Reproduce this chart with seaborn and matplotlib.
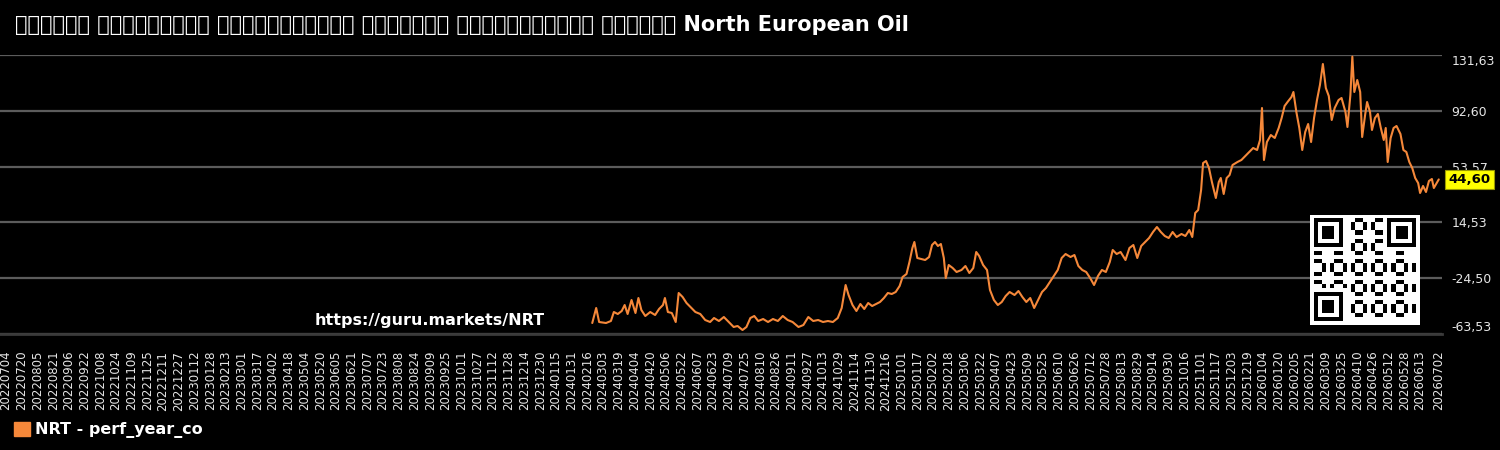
import numpy as np
import pandas as pd
import matplotlib
matplotlib.use("Agg")
import matplotlib.pyplot as plt
import matplotlib.transforms as mtransforms
from matplotlib.patches import Patch
import seaborn as sns

# ---------------- data ----------------
title = "ಕಂಪನಿಯ ಮಾರುಕಟ್ಟೆ ಬಂಡವಾಳೀಕರಣದ ವಾರ್ಷಿಕ ಚಲನಶಾಸ್ತ್ರದ ಚಾರ್ಟ್ North European Oil"
series_name = "NRT - perf_year_co"
watermark = "https://guru.markets/NRT"
axis_start = "20220704"
axis_end = "20260702"
tick_step_days = 16
y_ticks = [-63.53, -24.50, 14.53, 53.57, 92.60, 131.63]
last_value = 44.60

dates = [
    "20240221", "20240225", "20240228", "20240306", "20240311", "20240314", "20240318", "20240322",
    "20240325", "20240328", "20240401", "20240405", "20240408", "20240411", "20240415", "20240420",
    "20240425", "20240429", "20240503", "20240505", "20240508", "20240512", "20240516", "20240519",
    "20240523", "20240527", "20240601", "20240605", "20240610", "20240615", "20240620", "20240624",
    "20240629", "20240704", "20240709", "20240714", "20240718", "20240723", "20240727", "20240731",
    "20240804", "20240808", "20240813", "20240818", "20240823", "20240828", "20240902", "20240907",
    "20240912", "20240918", "20240923", "20240928", "20241003", "20241008", "20241013", "20241018",
    "20241023", "20241028", "20241101", "20241105", "20241108", "20241112", "20241116", "20241120",
    "20241124", "20241128", "20241202", "20241206", "20241210", "20241214", "20241218", "20241222",
    "20241226", "20241230", "20250102", "20250106", "20250109", "20250112", "20250114", "20250117",
    "20250121", "20250125", "20250129", "20250201", "20250204", "20250207", "20250210", "20250213",
    "20250215", "20250218", "20250222", "20250226", "20250303", "20250307", "20250311", "20250315",
    "20250318", "20250321", "20250325", "20250329", "20250401", "20250405", "20250409", "20250413",
    "20250417", "20250421", "20250426", "20250430", "20250504", "20250508", "20250512", "20250516",
    "20250520", "20250524", "20250528", "20250601", "20250605", "20250609", "20250613", "20250617",
    "20250622", "20250626", "20250630", "20250704", "20250708", "20250712", "20250716", "20250720",
    "20250724", "20250728", "20250801", "20250804", "20250808", "20250812", "20250817", "20250821",
    "20250825", "20250829", "20250902", "20250906", "20250910", "20250914", "20250918", "20250922",
    "20250926", "20250930", "20251004", "20251008", "20251013", "20251017", "20251021", "20251024",
    "20251027", "20251030", "20251102", "20251104", "20251107", "20251110", "20251113", "20251115",
    "20251117", "20251120", "20251122", "20251125", "20251128", "20251201", "20251204", "20251209",
    "20251213", "20251217", "20251221", "20251225", "20251229", "20260101", "20260103", "20260105",
    "20260108", "20260112", "20260116", "20260120", "20260123", "20260126", "20260129", "20260202",
    "20260204", "20260207", "20260210", "20260213", "20260216", "20260219", "20260222", "20260225",
    "20260228", "20260303", "20260306", "20260309", "20260312", "20260315", "20260318", "20260322",
    "20260325", "20260329", "20260331", "20260403", "20260405", "20260407", "20260410", "20260413",
    "20260415", "20260418", "20260420", "20260423", "20260425", "20260428", "20260501", "20260504",
    "20260507", "20260509", "20260511", "20260514", "20260517", "20260520", "20260524", "20260527",
    "20260530", "20260602", "20260605", "20260608", "20260611", "20260613", "20260616", "20260619",
    "20260622", "20260625", "20260627", "20260702",
]

values = [
    -55.84, -45.34, -55.14, -55.84, -54.44, -48.14, -49.54, -47.44,
    -43.25, -49.54, -39.75, -48.84, -38.35, -46.74, -50.94, -48.14,
    -50.24, -46.04, -43.25, -38.35, -48.14, -48.84, -55.14, -34.85,
    -37.65, -41.85, -45.34, -48.14, -49.54, -53.74, -55.14, -52.34,
    -54.44, -51.64, -55.14, -58.63, -57.93, -60.73, -58.63, -52.34,
    -50.94, -54.44, -53.04, -55.14, -53.04, -54.44, -50.94, -53.74,
    -55.14, -58.63, -57.24, -51.64, -54.44, -53.74, -55.14, -54.44,
    -55.14, -52.34, -45.34, -29.26, -36.25, -43.25, -47.44, -42.55,
    -46.04, -41.85, -43.95, -42.55, -41.15, -38.35, -34.85, -35.55,
    -34.15, -29.95, -23.66, -21.56, -13.17, -3.37, 0.82, -10.37,
    -11.07, -11.77, -9.67, -1.28, 0.82, -1.97, -0.58, -10.37,
    -24.36, -15.27, -17.36, -20.16, -18.76, -15.96, -20.86, -17.36,
    -6.17, -8.97, -15.27, -18.76, -32.75, -39.75, -43.25, -41.15,
    -36.95, -34.15, -36.25, -33.45, -37.65, -41.15, -38.35, -45.34,
    -39.75, -34.15, -31.35, -27.16, -22.96, -18.76, -10.37, -7.57,
    -9.67, -8.27, -15.96, -18.76, -20.16, -24.36, -29.26, -22.96,
    -18.76, -20.16, -13.17, -4.77, -7.57, -6.17, -11.77, -3.37,
    -1.28, -10.37, -1.97, 0.82, 3.62, 7.82, 11.32, 7.82,
    5.02, 3.62, 7.82, 4.32, 6.42, 5.02, 9.22, 4.32,
    21.11, 23.21, 37.20, 56.08, 57.48, 52.59, 42.79, 37.20,
    31.60, 42.79, 45.59, 34.40, 45.59, 47.69, 54.68, 56.78,
    58.18, 60.98, 63.78, 66.58, 65.18, 72.17, 94.56, 58.18,
    70.77, 75.67, 73.57, 80.57, 87.56, 95.96, 98.75, 102.25,
    105.75, 91.76, 80.57, 65.18, 77.77, 83.36, 70.77, 87.56,
    100.15, 110.64, 125.33, 108.55, 102.95, 86.16, 94.56, 100.15,
    101.55, 91.76, 81.27, 103.65, 130.50, 105.75, 114.14, 105.75,
    74.27, 89.66, 98.75, 91.76, 79.17, 87.56, 90.36, 80.57,
    72.17, 80.57, 56.78, 73.57, 80.57, 81.97, 76.37, 65.18,
    63.78, 56.78, 52.59, 45.59, 42.09, 35.10, 40.00, 35.80,
    43.49, 44.89, 38.60, 44.60,
]

# ---------------- styling ----------------
BG = "#000000"
LINE = "#f5883a"
GRID = "#5c5c5c"
TXT = "#e6e6e6"

sns.set_theme(style="dark", rc={
    "figure.facecolor": BG, "axes.facecolor": BG, "savefig.facecolor": BG,
    "axes.edgecolor": GRID, "text.color": TXT, "xtick.color": TXT, "ytick.color": TXT,
})
plt.rcParams["font.family"] = ["DejaVu Sans", "Noto Sans"]

start = pd.Timestamp(axis_start)
end = pd.Timestamp(axis_end)
n_days = (end - start).days

df = pd.DataFrame({"date": pd.to_datetime(dates, format="%Y%m%d"), "value": values})
df["day"] = (df["date"] - start).dt.days

fig = plt.figure(figsize=(15, 4.5), dpi=100)
ax = fig.add_axes([0.0, 1 - 334 / 450, 1442 / 1500, 279 / 450])

sns.lineplot(data=df, x="day", y="value", ax=ax, color=LINE, linewidth=1.5, legend=False)

ax.set_xlim(-6.1, 1462.3)
ax.set_ylim(y_ticks[0], y_ticks[-1])

# x ticks: every 16 days plus final day
tick_days = list(range(0, n_days - 16 + 1, tick_step_days)) + [n_days]
tick_labels = [(start + pd.Timedelta(days=d)).strftime("%Y%m%d") for d in tick_days]
ax.set_xticks(tick_days)
ax.set_xticklabels(tick_labels, rotation=90, fontsize=8.5, color=TXT)
ax.tick_params(axis="x", length=0, pad=12)

# y ticks on the right
ax.yaxis.tick_right()
ax.set_yticks(y_ticks)
ylabels = ax.set_yticklabels([f"{v:.2f}".replace(".", ",") for v in y_ticks], fontsize=9, color=TXT)
ylabels[0].set_va("bottom")
ylabels[-1].set_va("top")
ax.tick_params(axis="y", length=0, pad=7)

ax.grid(axis="y", color=GRID, linewidth=1.6)
ax.grid(axis="x", visible=False)
for s in ["left", "right", "top"]:
    ax.spines[s].set_visible(False)
ax.spines["bottom"].set_color("#3a3a3a")
ax.spines["bottom"].set_linewidth(2)
ax.set_xlabel("")
ax.set_ylabel("")

# last value tag
trans = mtransforms.blended_transform_factory(ax.transAxes, ax.transData)
ax.text(1.0045, last_value, f"{last_value:.2f}".replace(".", ","), transform=trans,
        ha="left", va="center", fontsize=9.5, fontweight="bold", color="black",
        bbox=dict(boxstyle="square,pad=0.25", facecolor="#ffff00", edgecolor="#999900", linewidth=0.8),
        clip_on=False)

# title
fig.text(15 / 1500, 1 - 25 / 450, title, fontsize=15, fontweight="bold", color="white",
         ha="left", va="center")

# watermark
fig.text(315 / 1500, 1 - 320 / 450, watermark, fontsize=11.5, fontweight="bold", color="white",
         ha="left", va="center")

# legend
leg = fig.legend(handles=[Patch(facecolor=LINE, edgecolor=LINE, label=series_name)],
                 loc="center left", bbox_to_anchor=(0.0, 1 - 430 / 450), frameon=False,
                 handlelength=1.0, handleheight=1.0, handletextpad=0.3,
                 prop={"weight": "bold", "size": 11.5})
for t in leg.get_texts():
    t.set_color("white")

# QR-like badge
qax = fig.add_axes([1310 / 1500, 1 - 325 / 450, 110 / 1500, 110 / 450])
N = 25
qr = np.zeros((N, N), dtype=int)
i, j = np.indices((N, N))
qr[((i * 7 + j * 11 + i * j) % 5) < 2] = 1
def finder(r, c):
    qr[r:r + 7, c:c + 7] = 1
    qr[r + 1:r + 6, c + 1:c + 6] = 0
    qr[r + 2:r + 5, c + 2:c + 5] = 1
for r, c in [(0, 0), (0, N - 7), (N - 7, 0)]:
    qr[max(r - 1, 0):r + 8, max(c - 1, 0):c + 8] = 0
    finder(r, c)
qr = np.pad(qr, 1, constant_values=0)
qax.imshow(qr, cmap="gray_r", interpolation="nearest", vmin=0, vmax=1)
qax.set_xticks([]); qax.set_yticks([])
for s in qax.spines.values():
    s.set_visible(False)

fig.savefig("out.png", dpi=100, facecolor=BG)
